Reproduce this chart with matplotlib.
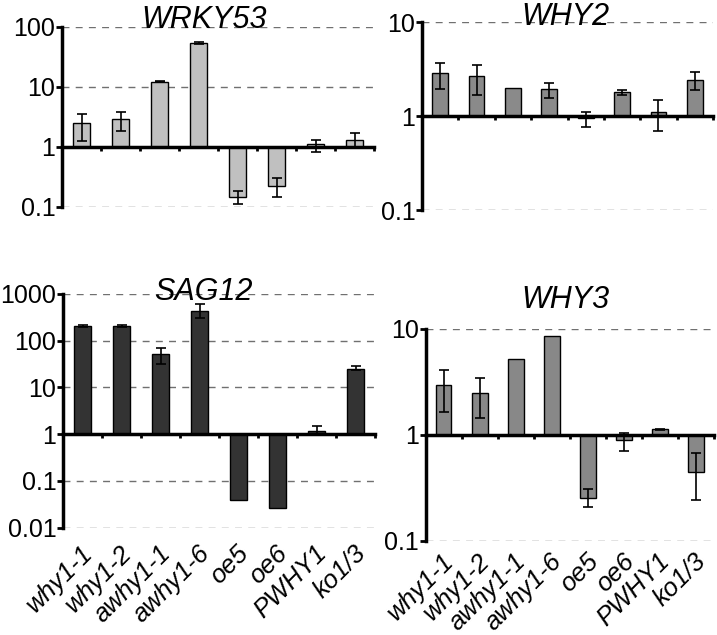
import numpy as np
import matplotlib
matplotlib.use("Agg")
import matplotlib.pyplot as plt
import matplotlib.transforms as mtransforms
from matplotlib.ticker import FixedLocator, NullLocator

plt.rcParams['font.family'] = ['Liberation Sans', 'DejaVu Sans']

categories = ["why1-1", "why1-2", "awhy1-1", "awhy1-6", "oe5", "oe6", "PWHY1", "ko1/3"]

# WRKY53
wrky53_val = [2.5, 2.9, 12.3, 54, 0.149, 0.224, 1.11, 1.32]
wrky53_hi = [3.6, 3.8, 12.8, 56, 0.187, 0.31, 1.32, 1.69]
wrky53_lo = [1.27, 1.87, 11.9, 52, 0.112, 0.149, 0.83, 1.0]

# WHY2
why2_val = [2.85, 2.69, 1.99, 1.96, 0.96, 1.80, 1.12, 2.42]
why2_hi = [3.64, 3.55, None, 2.27, 1.12, 1.91, 1.50, 2.97]
why2_lo = [1.96, 1.70, None, 1.58, 0.77, 1.70, 0.70, 1.92]

# SAG12
sag12_val = [206, 206, 52, 431, 0.039, 0.026, 1.16, 25]
sag12_hi = [215, 215, 70, 590, None, None, 1.5, 28]
sag12_lo = [198, 198, 32, 305, None, None, 0.98, 23]

# WHY3
why3_val = [2.93, 2.48, 5.2, 8.57, 0.253, 0.885, 1.12, 0.448]
why3_hi = [4.07, 3.46, None, None, 0.309, 1.04, 1.14, 0.665]
why3_lo = [1.63, 1.43, None, None, 0.208, 0.70, 1.10, 0.24]

W, H = 717, 635
fig = plt.figure(figsize=(W / 100, H / 100), dpi=100)


def px_axes(left, right, top, bottom):
    return fig.add_axes([left / W, 1 - bottom / H, (right - left) / W, (bottom - top) / H])


def panel(ax, vals, his, los, color, ylim, yticks, yticklabels, title, tx, ty,
          show_labels, label_dy=10):
    x = np.arange(1, len(categories) + 1)
    vals = np.array(vals, dtype=float)
    ax.set_yscale('log')
    ax.set_xlim(0.5, len(categories) + 0.5)
    ax.set_ylim(*ylim)
    ax.bar(x, vals - 1, bottom=1, width=0.43, color=color, edgecolor='black',
           linewidth=1.0, zorder=3)
    for xi, v, hi, lo in zip(x, vals, his, los):
        if hi is None:
            continue
        ax.errorbar([xi], [v], yerr=[[v - lo], [hi - v]], fmt='none', ecolor='black',
                    elinewidth=1.2, capsize=3.5, capthick=1.2, zorder=4)
    ax.yaxis.set_major_locator(FixedLocator(yticks))
    ax.yaxis.set_minor_locator(NullLocator())
    ax.set_yticklabels(yticklabels)
    ax.tick_params(axis='y', direction='out', length=4, width=2, labelsize=18, pad=0.8)
    ax.yaxis.grid(True, linestyle=(0, (5, 4.5)), color='#707070', linewidth=1.0, zorder=0)
    ax.set_axisbelow(True)
    for s in ('top', 'right'):
        ax.spines[s].set_visible(False)
    ax.spines['left'].set_linewidth(2.5)
    ax.spines['bottom'].set_position(('data', 1))
    ax.spines['bottom'].set_linewidth(2.5)
    ax.spines['bottom'].set_zorder(5)
    ax.set_xticks(np.arange(1.5, len(categories) + 1.0, 1.0))
    ax.set_xticklabels([])
    ax.tick_params(axis='x', direction='out', length=3, width=2)
    ax.patch.set_alpha(0)
    if show_labels:
        off = mtransforms.ScaledTranslation(-2 / 100, -label_dy / 100, fig.dpi_scale_trans)
        for xi, lab in zip(x, categories):
            ax.text(xi, 0, lab, transform=ax.get_xaxis_transform() + off,
                    rotation=45, rotation_mode='anchor', ha='right', va='top',
                    fontsize=18.5, style='italic')
    fig.text(tx / W, 1 - ty / H, title, ha='center', va='baseline', fontsize=22,
             style='italic')


ax1 = px_axes(62, 374, 27, 207)
panel(ax1, wrky53_val, wrky53_hi, wrky53_lo, '#c0c0c0', (0.1, 100),
      [0.1, 1, 10, 100], ['0.1', '1', '10', '100'], 'WRKY53', 204, 28, False)

ax2 = px_axes(422, 713, 22.3, 210)
panel(ax2, why2_val, why2_hi, why2_lo, '#8a8a8a', (0.1, 10),
      [0.1, 1, 10], ['0.1', '1', '10'], 'WHY2', 565, 25, False)

ax3 = px_axes(63, 375, 293.7, 527.7)
panel(ax3, sag12_val, sag12_hi, sag12_lo, '#333333', (0.01, 1000),
      [0.01, 0.1, 1, 10, 100, 1000], ['0.01', '0.1', '1', '10', '100', '1000'],
      'SAG12', 203, 300, True, label_dy=13)

ax4 = px_axes(425.7, 714, 328.7, 540.7)
panel(ax4, why3_val, why3_hi, why3_lo, '#888888', (0.1, 10),
      [0.1, 1, 10], ['0.1', '1', '10'], 'WHY3', 565, 307.7, True, label_dy=8)

fig.savefig('out.png', dpi=100)
